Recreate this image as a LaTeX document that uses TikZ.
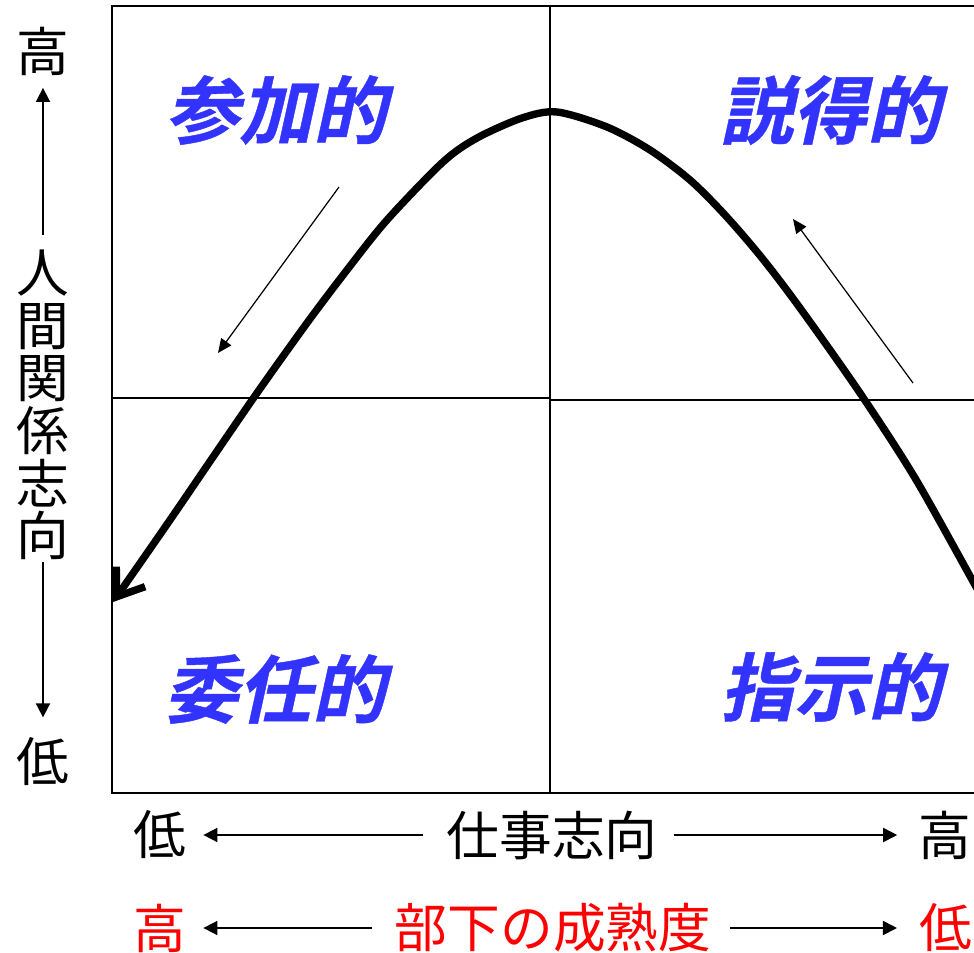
\documentclass[tikz,border=0pt]{standalone}
\usepackage{fontspec}
\setmainfont{Noto Sans CJK JP}
\newfontfamily\quadfont{Noto Sans CJK JP Bold}[FakeSlant=0.22,FakeBold=0.6]
\usetikzlibrary{arrows.meta}
\definecolor{quadblue}{RGB}{51,51,255}

\begin{document}
\begin{tikzpicture}[x=0.02cm,y=-0.02cm,
  axislabel/.style={inner sep=0pt,font=\fontsize{30}{30}\selectfont},
  quadlabel/.style={inner sep=0pt,text=quadblue,font=\quadfont\fontsize{42}{42}\selectfont},
  axisarrow/.style={line width=1pt,-{Triangle[length=8pt,width=8pt]}},
  flowarrow/.style={line width=0.7pt,-{Triangle[length=8pt,width=7pt]}},
  frame/.style={line width=1.1pt}]

\useasboundingbox (0,0) rectangle (974,953);

%%% quadrants %%%
\draw[frame] (980,6) -- (112,6) -- (112,793) -- (980,793);
\draw[frame] (550,6) -- (550,793);
\draw[frame] (112,398) -- (550,398);
\draw[frame] (550,400) -- (980,400);

  \node (sanka) at (276,110) [quadlabel] {参加的};
  \node (settoku) at (830,110) [quadlabel] {説得的};
  \node (inin) at (275,689) [quadlabel] {委任的};
  \node (shiji) at (831,687) [quadlabel] {指示的};

%%% life-cycle curve %%%
\draw[line width=4.2pt,line join=round,{Straight Barb[length=14pt,width=20pt]}-]
  plot[smooth] coordinates {(113,602) (170,520) (213,457) (257,393) (307,323)
  (347,270) (387,220) (443,162) (477,138) (522,118) (557,112) (607,127)
  (650,150) (690,180) (725,215) (762,258) (800,308) (860,393) (915,478)
  (975,585) (992,615)};

  \coordinate (sankaS) at (339,187);
  \coordinate (sankaE) at (218,353);
  \coordinate (settokuS) at (913,383);
  \coordinate (settokuE) at (793,219);

\draw[flowarrow] (sankaS) -- (sankaE);
\draw[flowarrow] (settokuS) -- (settokuE);

%%% vertical axis %%%
  \node (hiL) at (43,51) [axislabel] {高};
  \node (relL) at (43,405) [axislabel,align=center] {人\\間\\関\\係\\志\\向};
  \node (loL) at (43,762) [axislabel] {低};

\draw[axisarrow,shorten <=8pt,shorten >=7pt] (relL) -- (hiL);
\draw[axisarrow,shorten <=1pt,shorten >=11.5pt] (relL) -- (loL);

%%% horizontal axis %%%
  \node (loX) at (160,835) [axislabel] {低};
  \node (task) at (552,835) [axislabel] {仕事志向};
  \node (hiX) at (945,835) [axislabel] {高};

\draw[axisarrow,shorten <=13pt,shorten >=9.5pt] (task) -- (loX);
\draw[axisarrow,shorten <=9pt,shorten >=12pt] (task) -- (hiX);

  \node (hiM) at (160,928) [axislabel,text=red] {高};
  \node (mature) at (553,928) [axislabel,text=red] {部下の成熟度};
  \node (loM) at (946,928) [axislabel,text=red] {低};

\draw[axisarrow,shorten <=13pt,shorten >=9.5pt] (mature) -- (hiM);
\draw[axisarrow,shorten <=10.5pt,shorten >=12.7pt] (mature) -- (loM);
\end{tikzpicture}
\end{document}
